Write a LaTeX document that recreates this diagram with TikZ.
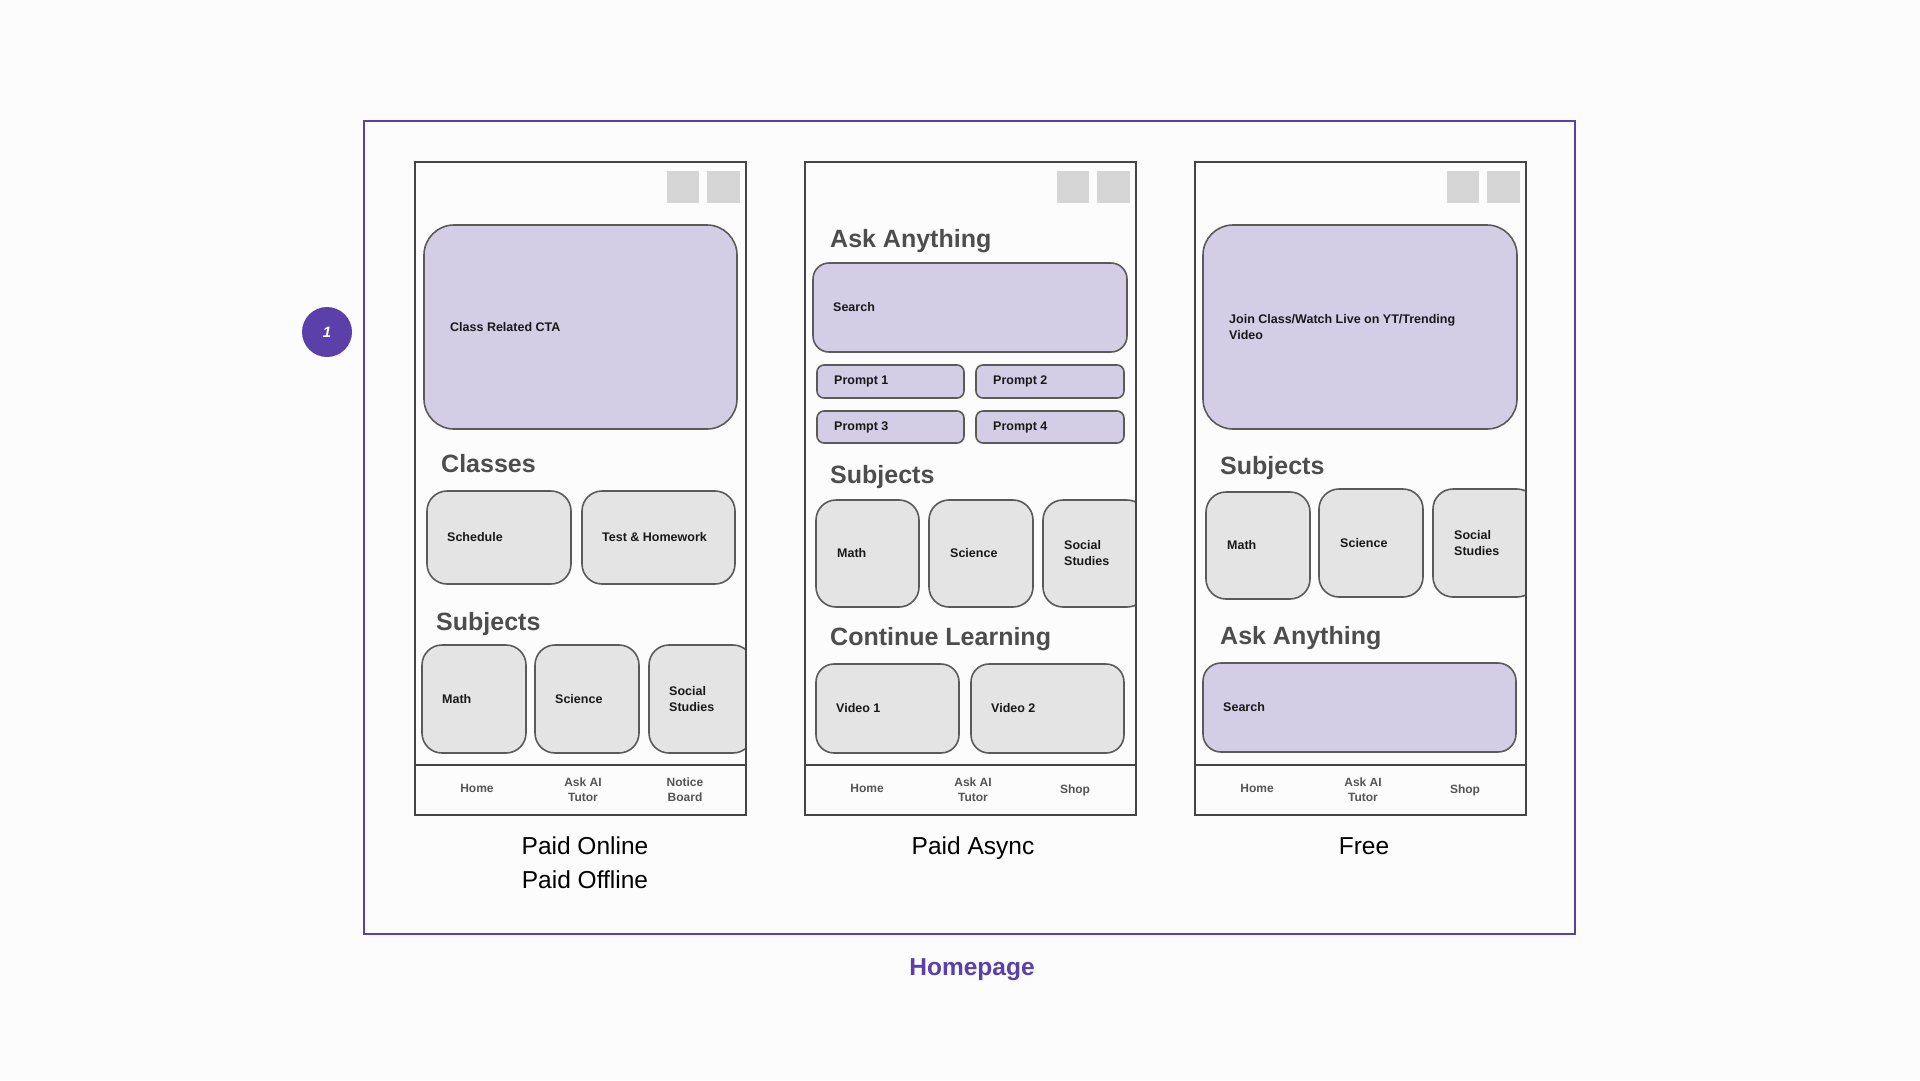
\documentclass[tikz,border=0pt]{standalone}
\usepackage{fontspec}
\setmainfont{Liberation Sans}
\usetikzlibrary{positioning}
\definecolor{bgwhite}{HTML}{FCFCFC}
\definecolor{framepurple}{HTML}{5A40A8}
\definecolor{lavender}{HTML}{D4CDE6}
\definecolor{cardgray}{HTML}{E4E4E4}
\definecolor{icongray}{HTML}{D5D5D5}
\definecolor{phoneline}{HTML}{454545}
\definecolor{cardline}{HTML}{5A5A5A}
\definecolor{headgray}{HTML}{4D4D4D}
\definecolor{navgray}{HTML}{555555}

\begin{document}
\begin{tikzpicture}[x=1pt,y=-1pt,
    phone/.style={draw=phoneline,line width=2.8pt},
    card/.style={draw=cardline,line width=1.6pt,fill=cardgray,rounded corners=20pt},
    lavcard/.style={card,fill=lavender},
    lbl/.style={anchor=west,inner sep=0pt,align=left,font=\fontsize{12.5}{16}\selectfont\bfseries,text=black!90},
    heading/.style={anchor=base west,inner sep=0pt,font=\fontsize{25}{30}\selectfont\bfseries,text=headgray},
    navlbl/.style={inner sep=0pt,align=center,font=\fontsize{12}{15}\selectfont\bfseries,text=navgray},
    caption/.style={anchor=base,inner sep=0pt,font=\fontsize{24.5}{30}\selectfont}]

\fill[bgwhite] (0,0) rectangle (1920,1080);
\draw[framepurple,line width=2.6pt] (364,121) rectangle (1575,934);
\node[circle,fill=framepurple,minimum size=50pt,inner sep=0pt,text=white,font=\fontsize{15}{18}\selectfont\bfseries\itshape] (badge) at (327,332) {1};
\node[caption,font=\fontsize{24.5}{30}\selectfont\bfseries,text=framepurple] (title) at (972,975) {Homepage};

% phone 1
\draw[lavcard,rounded corners=30pt] (424,225) rectangle (737,429);
\node[lbl] (cta1) at (450,327) {Class Related CTA};
\node[heading] (classes) at (441,472) {Classes};
\draw[card] (427,491) rectangle (571,584);
\node[lbl] (sched) at (447,537.5) {Schedule};
\draw[card] (582,491) rectangle (735,584);
\node[lbl] (homework) at (602,537.5) {Test \& Homework};
\node[heading] (subj1) at (436,630) {Subjects};
\draw[card] (422,645) rectangle (526,753);
\node[lbl] (math1) at (442,699) {Math};
\draw[card] (535,645) rectangle (639,753);
\node[lbl] (sci1) at (555,699) {Science};
\begin{scope}
  \clip (415,162) rectangle (746,765);
  \draw[card] (649,645) rectangle (753,753);
\end{scope}
\node[lbl] (soc1) at (669,699) {Social\\Studies};
\node[caption] (paid1) at (585,854) {Paid Online};
\node[caption] (paid2) at (585,888) {Paid Offline};

% phone 2
\node[heading] (ask2) at (830,247) {Ask Anything};
\draw[lavcard,rounded corners=16pt] (813,263) rectangle (1127,352);
\node[lbl] (search2) at (833,307.5) {Search};
\draw[lavcard,rounded corners=7pt] (817,365) rectangle (964,398);
\node[lbl] (prompt1) at (834,381.5) {Prompt 1};
\draw[lavcard,rounded corners=7pt] (976,365) rectangle (1124,398);
\node[lbl] (prompt2) at (993,381.5) {Prompt 2};
\draw[lavcard,rounded corners=7pt] (817,411) rectangle (964,443);
\node[lbl] (prompt3) at (834,427) {Prompt 3};
\draw[lavcard,rounded corners=7pt] (976,411) rectangle (1124,443);
\node[lbl] (prompt4) at (993,427) {Prompt 4};
\node[heading] (subj2) at (830,483) {Subjects};
\draw[card] (816,500) rectangle (919,607);
\node[lbl] (math2) at (837,553.5) {Math};
\draw[card] (929,500) rectangle (1033,607);
\node[lbl] (sci2) at (950,553.5) {Science};
\begin{scope}
  \clip (805,162) rectangle (1135,765);
  \draw[card] (1043,500) rectangle (1147,607);
\end{scope}
\node[lbl] (soc2) at (1064,553.5) {Social\\Studies};
\node[heading] (cont) at (830,645) {Continue Learning};
\draw[card,rounded corners=18pt] (816,664) rectangle (959,753);
\node[lbl] (video1) at (836,708.5) {Video 1};
\draw[card,rounded corners=18pt] (971,664) rectangle (1124,753);
\node[lbl] (video2) at (991,708.5) {Video 2};
\node[caption] (async) at (973,854) {Paid Async};

% phone 3
\draw[lavcard,rounded corners=30pt] (1203,225) rectangle (1517,429);
\node[lbl] (cta3) at (1229,327) {Join Class/Watch Live on YT/Trending\\Video};
\node[heading] (subj3) at (1220,474) {Subjects};
\draw[card] (1206,492) rectangle (1310,599);
\node[lbl] (math3) at (1227,545.5) {Math};
\draw[card] (1319,489) rectangle (1423,597);
\node[lbl] (sci3) at (1340,543) {Science};
\begin{scope}
  \clip (1195,162) rectangle (1525,765);
  \draw[card] (1433,489) rectangle (1537,597);
\end{scope}
\node[lbl] (soc3) at (1454,543) {Social\\Studies};
\node[heading] (ask3) at (1220,644) {Ask Anything};
\draw[lavcard,rounded corners=18pt] (1203,663) rectangle (1516,752);
\node[lbl] (search3) at (1223,707.5) {Search};
\node[caption] (free) at (1364,854) {Free};

% frames, icons and nav bars
\foreach \px/\third in {415/{Notice\\Board},805/Shop,1195/Shop}{
  \fill[icongray] (\px+252,171) rectangle (\px+284,203);
  \fill[icongray] (\px+292,171) rectangle (\px+325,203);
  \draw[phone] (\px,162) rectangle (\px+331,815);
  \draw[phone] (\px,765) -- (\px+331,765);
  \node[navlbl] (home\px) at (\px+62,788) {Home};
  \node[navlbl] (tutor\px) at (\px+168,790) {Ask AI\\Tutor};
  \node[navlbl] (third\px) at (\px+270,790) {\third};
}
\end{tikzpicture}
\end{document}
